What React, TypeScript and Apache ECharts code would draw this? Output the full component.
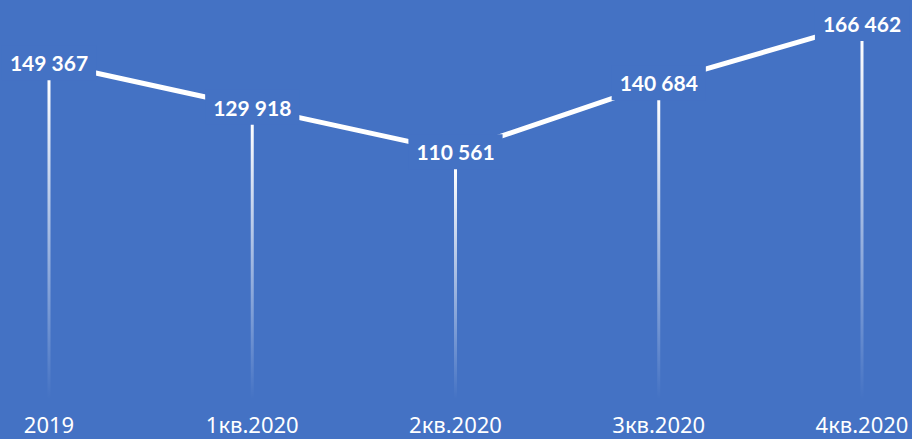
import React, { useEffect, useRef } from "react";
import * as echarts from "echarts";

const categories = ["2019", "1кв.2020", "2кв.2020", "3кв.2020", "4кв.2020"];
const values = [149367, 129918, 110561, 140684, 166462];

const BG = "#4472C4";

const fmt = (v: number) => {
  const s = String(Math.round(v));
  return s.replace(/\B(?=(\d{3})+(?!\d))/g, " ");
};

export default function App() {
  const ref = useRef<HTMLDivElement>(null);
  useEffect(() => {
    if (!ref.current) return;
    const chart = echarts.init(ref.current, undefined, { renderer: "svg" });
    chart.setOption({
      animation: false,
      backgroundColor: BG,
      grid: { left: 49, right: 50, top: 4, bottom: 34 },
      xAxis: {
        type: "category",
        data: categories,
        boundaryGap: false,
        axisLine: { show: false },
        axisTick: { show: false },
        splitLine: { show: false },
        axisLabel: {
          color: "#ffffff",
          fontFamily: "Noto Sans",
          fontSize: 22,
          lineHeight: 18,
          margin: 10,
          interval: 0,
        },
      },
      yAxis: {
        type: "value",
        min: 0,
        max: 175000,
        show: false,
      },
      series: [
        {
          type: "custom",
          z: 1,
          data: values.map((v, i) => [i, v]),
          renderItem: (params: any, api: any) => {
            const top = api.coord([api.value(0), api.value(1)]);
            const bot = api.coord([api.value(0), 0]);
            const y1 = top[1] + 16;
            const y2 = bot[1] - 6;
            return {
              type: "rect",
              shape: { x: top[0] - 1.5, y: y1, width: 3, height: y2 - y1 },
              style: {
                fill: new echarts.graphic.LinearGradient(0, 0, 0, 1, [
                  { offset: 0, color: "rgba(255,255,255,1)" },
                  { offset: 1, color: "rgba(255,255,255,0)" },
                ]),
              },
            };
          },
        },
        {
          type: "line",
          z: 2,
          data: values,
          showSymbol: true,
          symbol: "circle",
          symbolSize: 2,
          itemStyle: { color: BG },
          lineStyle: { color: "#ffffff", width: 5 },
          label: {
            show: true,
            position: "inside",
            formatter: (p: any) => fmt(p.value),
            color: "#ffffff",
            fontFamily: "Lato",
            fontWeight: "bold",
            fontSize: 21,
            backgroundColor: BG,
            padding: [7, 8, 7, 8],
          },
        },
      ],
    });
    return () => chart.dispose();
  }, []);
  return <div ref={ref} style={{ width: 912, height: 439, position: "absolute", left: 0, top: 0 }} />;
}
